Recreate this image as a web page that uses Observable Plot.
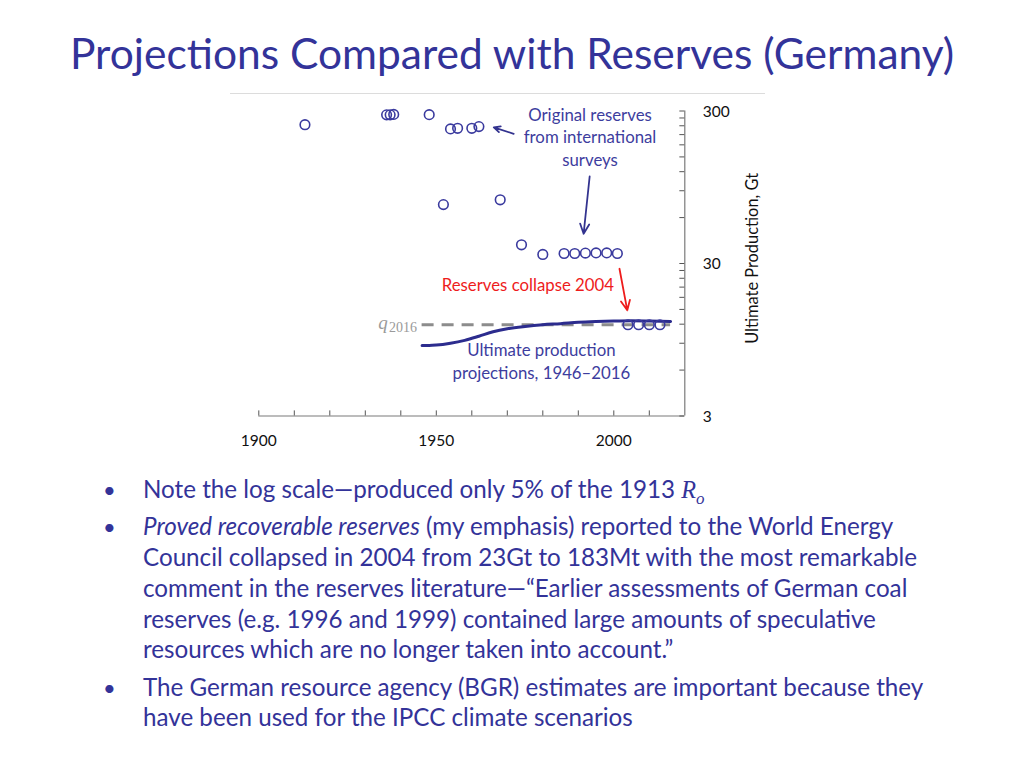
<!DOCTYPE html>
<html>
<head>
<meta charset="utf-8">
<script src="https://cdn.jsdelivr.net/npm/d3@7"></script>
<script src="https://cdn.jsdelivr.net/npm/@observablehq/plot@0.6"></script>
<style>
  html, body { margin: 0; padding: 0; background: #fff; }
  body { width: 1024px; height: 768px; position: relative; overflow: hidden; font-family: Lato, "Open Sans", sans-serif; color: #333399; }
  #title { position: absolute; left: 70px; top: 27px; font-size: 42.5px; white-space: nowrap; color: #333399; }
  #topline { position: absolute; left: 230px; top: 93px; width: 535px; height: 1px; background: #dcdcdc; }
  #chart { position: absolute; left: 0; top: 90px; }
  .line { position: absolute; left: 143px; font-size: 24.2px; white-space: nowrap; line-height: 32px; }
  .bullet { position: absolute; left: 103px; font-size: 22px; line-height: 32px; }
  .math { font-family: "Liberation Serif", serif; font-style: italic; }
</style>
</head>
<body>
<div id="title">Projections Compared with Reserves (Germany)</div>
<div id="topline"></div>
<div id="chart"></div>
<div id="notes"></div>
<script>
// ---- Data ----
const surveyYears = [1913, 1936, 1937, 1938, 1948, 1952, 1954, 1956, 1960, 1962, 1968, 1974, 1980, 1986, 1989, 1992, 1995, 1998, 2001, 2004, 2007, 2010, 2013];
const surveyValues = [244, 283, 283, 285, 284, 73, 229, 231, 231, 237, 78.5, 39.8, 34.4, 34.9, 34.9, 35.1, 35.2, 35.2, 34.9, 11.9, 11.9, 11.9, 11.9];

const projYears = [1946, 1948, 1950, 1954, 1958, 1962, 1966, 1970, 1975, 1980, 1985, 1990, 1995, 2000, 2005, 2010, 2016];
const projValues = [8.7, 8.7, 8.75, 9.0, 9.4, 10.0, 10.7, 11.2, 11.6, 11.9, 12.1, 12.35, 12.5, 12.6, 12.65, 12.6, 12.5];

const q2016 = 11.9;
const q2016Span = [1946, 2016];

const xTicks = [1900, 1910, 1920, 1930, 1940, 1950, 1960, 1970, 1980, 1990, 2000, 2010];
const xTickLabels = [1900, 1950, 2000];
const yTicks = [3, 6, 9, 12, 15, 18, 21, 24, 27, 30, 60, 90, 120, 150, 180, 210, 240, 270, 300];
const yTickLabels = [3, 30, 300];

const annotLines = [
  {x: 1993.3, y: 280, text: "Original reserves", color: "#3d3d9e"},
  {x: 1993.3, y: 201, text: "from international", color: "#3d3d9e"},
  {x: 1993.3, y: 142, text: "surveys", color: "#3d3d9e"},
  {x: 1975.8, y: 21.5, text: "Reserves collapse 2004", color: "#ee1c1c"},
  {x: 1979.6, y: 8.07, text: "Ultimate production", color: "#3d3d9e"},
  {x: 1979.6, y: 5.70, text: "projections, 1946\u20132016", color: "#3d3d9e"}
];
const arrows = [
  {x1: 1971.8, y1: 212.7, x2: 1966.2, y2: 234.5, color: "#33338f"},
  {x1: 1993.2, y1: 111.6, x2: 1991.5, y2: 47.0, color: "#33338f"},
  {x1: 2001.6, y1: 27.7, x2: 2003.8, y2: 14.8, color: "#ee1c1c"}
];

const surveys = surveyYears.map((y, i) => ({year: y, value: surveyValues[i]}));
const proj = projYears.map((y, i) => ({year: y, value: projValues[i]}));

const axisColor = "#7a7a7a";
const plot = Plot.plot({
  width: 1024,
  height: 370,
  marginLeft: 258.3,
  marginRight: 339.7,
  marginTop: 20.5,
  marginBottom: 44.5,
  style: {fontFamily: "Lato, sans-serif", background: "transparent", overflow: "visible"},
  x: {domain: [1900, 2020], axis: null},
  y: {type: "log", domain: [3, 300], axis: null},
  marks: [
    // axes lines
    Plot.ruleY([3], {x1: 1900, x2: 2020, stroke: axisColor, strokeWidth: 1.2}),
    Plot.ruleX([2020], {y1: 3, y2: 300, stroke: axisColor, strokeWidth: 1.2}),
    Plot.ruleX(xTicks, {x: d => d, y1: 3, y2: 3.24, stroke: "#555", strokeWidth: 1}),
    Plot.ruleY(yTicks, {y: d => d, x1: 2018.6, x2: 2020, stroke: "#555", strokeWidth: 1}),
    Plot.text(xTickLabels, {x: d => d, y: 3, text: d => String(d), dy: 25, fontSize: 15.5, fill: "#111"}),
    Plot.text(yTickLabels, {x: 2020, y: d => d, text: d => String(d), dx: 18, dy: 1, textAnchor: "start", fontSize: 15.5, fill: "#111"}),
    Plot.text(["Ultimate Production, Gt"], {x: 2020, y: 32.4, text: d => d, dx: 68, rotate: -90, fontSize: 16.4, fill: "#111"}),
    // q2016 dashed line
    Plot.ruleY([q2016], {x1: q2016Span[0], x2: q2016Span[1], stroke: "#8c8c8c", strokeWidth: 3, strokeDasharray: "12,8"}),
    Plot.text(["q"], {x: q2016Span[0], y: q2016, text: d => d, dx: -39, dy: -2, fontSize: 19, fontStyle: "italic", fontFamily: "Liberation Serif, serif", fill: "#9a9a9a", textAnchor: "middle"}),
    Plot.text(["2016"], {x: q2016Span[0], y: q2016, text: d => d, dx: -5, dy: 3, fontSize: 14, fontFamily: "Liberation Serif, serif", fill: "#9a9a9a", textAnchor: "end"}),
    // projections line
    Plot.line(proj, {x: "year", y: "value", stroke: "#2c2c8e", strokeWidth: 3, curve: "monotone-x"}),
    // survey dots
    Plot.dot(surveys, {x: "year", y: "value", r: 4.8, stroke: "#3a3a9e", strokeWidth: 1.6, fill: "none"}),
    // annotations
    Plot.text(annotLines, {x: "x", y: "y", text: "text", fill: d => d.color, fontSize: 16.8}),
    Plot.arrow(arrows, {x1: "x1", y1: "y1", x2: "x2", y2: "y2", stroke: d => d.color, strokeWidth: 1.8, headLength: 9, headAngle: 50})
  ]
});
document.getElementById("chart").appendChild(plot);

// ---- Notes ----
const noteLines = [
  {y: 490, bullet: true, html: 'Note the log scale\u2014produced only 5% of the 1913 <span class="math">R<sub style="font-size:0.7em">o</sub></span>'},
  {y: 527, bullet: true, html: '<i>Proved recoverable reserves</i> (my emphasis) reported to the World Energy'},
  {y: 558, bullet: false, html: 'Council collapsed in 2004 from 23Gt to 183Mt with the most remarkable'},
  {y: 589, bullet: false, html: 'comment in the reserves literature\u2014\u201cEarlier assessments of German coal'},
  {y: 620, bullet: false, html: 'reserves (e.g. 1996 and 1999) contained large amounts of speculative'},
  {y: 650, bullet: false, html: 'resources which are no longer taken into account.\u201d'},
  {y: 688, bullet: true, html: 'The German resource agency (BGR) estimates are important because they'},
  {y: 718, bullet: false, html: 'have been used for the IPCC climate scenarios'}
];
const notes = document.getElementById("notes");
for (const l of noteLines) {
  const d = document.createElement("div");
  d.className = "line";
  d.style.top = (l.y - 17) + "px";
  d.innerHTML = l.html;
  notes.appendChild(d);
  if (l.bullet) {
    const b = document.createElement("div");
    b.className = "bullet";
    b.style.top = (l.y - 16) + "px";
    b.textContent = "\u2022";
    notes.appendChild(b);
  }
}
</script>
</body>
</html>
